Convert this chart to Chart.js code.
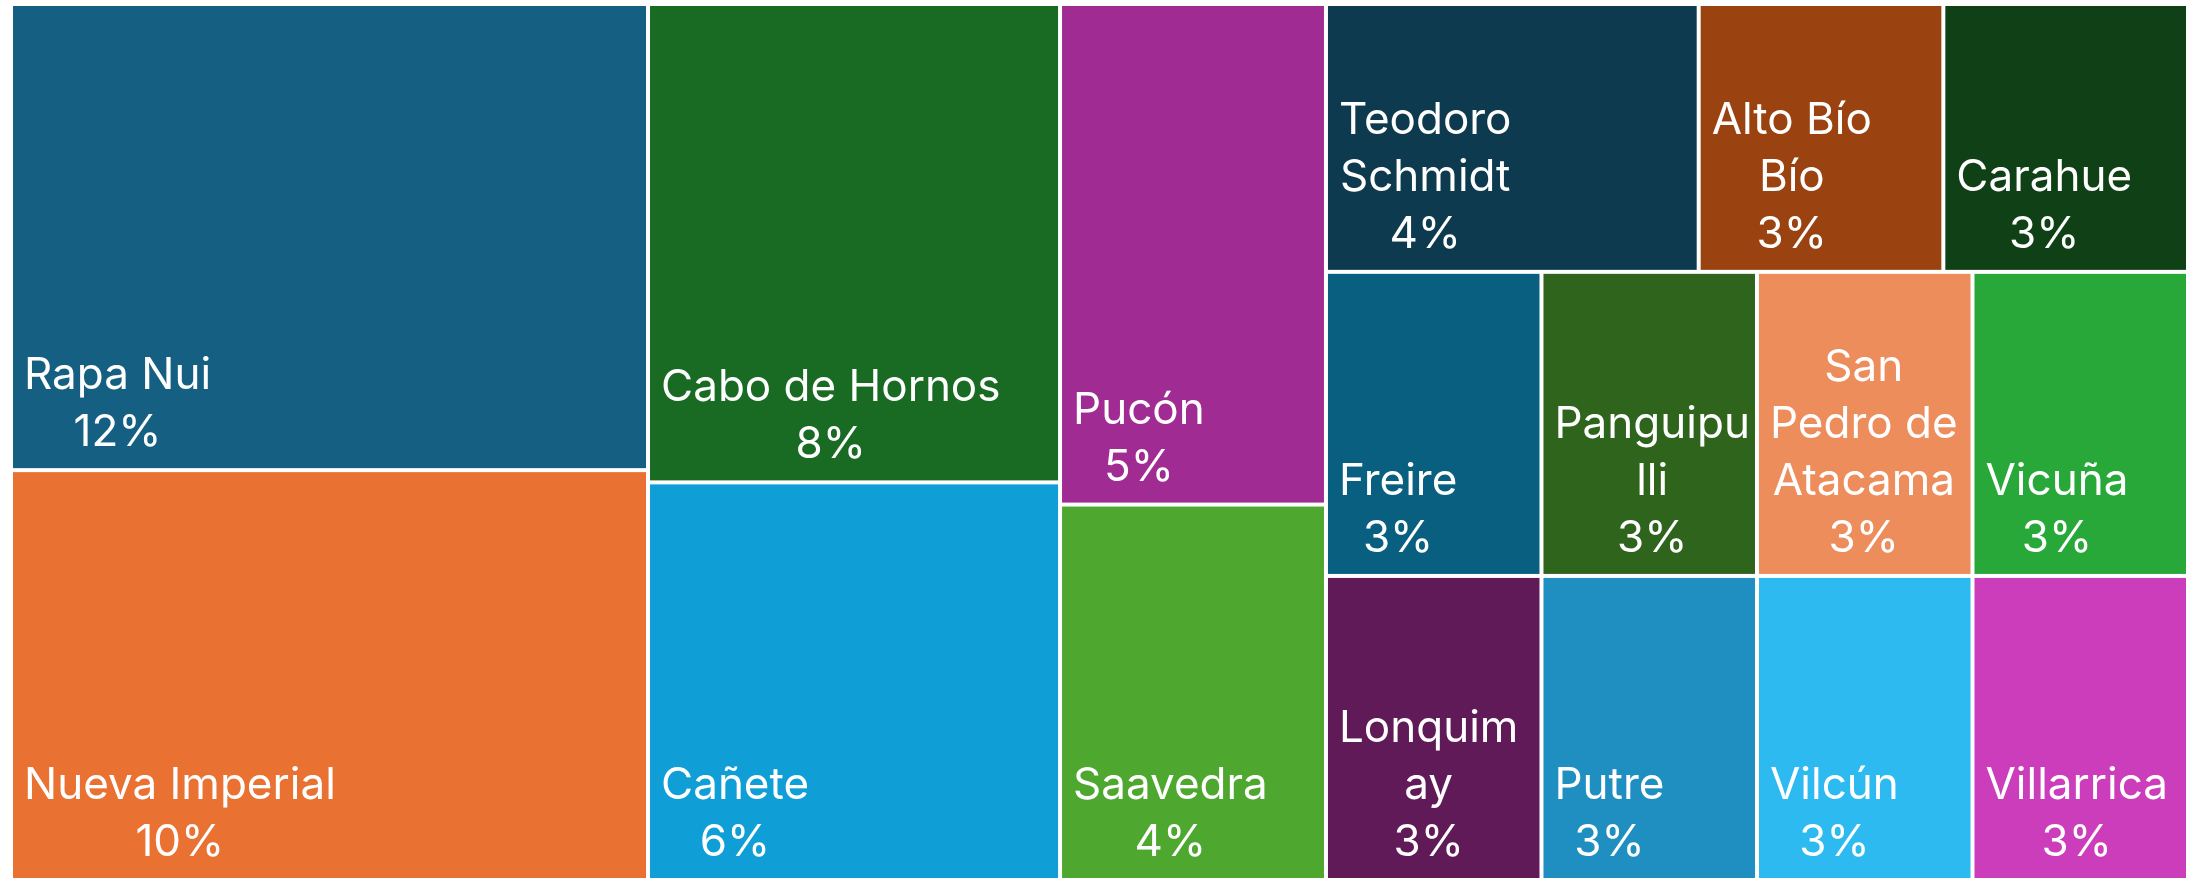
<!DOCTYPE html>
<html>
<head>
<meta charset="utf-8">
<script src="https://cdn.jsdelivr.net/npm/chart.js@4.4.1/dist/chart.umd.min.js"></script>
<style>
  html, body { margin: 0; padding: 0; background: #ffffff; }
  #wrap { width: 2188px; height: 880px; position: relative; }
</style>
</head>
<body>
<div id="wrap"><canvas id="treemap"></canvas></div>
<script>
// Datos del treemap (porcentajes por comuna)
const comunas = [
  'Rapa Nui', 'Nueva Imperial', 'Cabo de Hornos', 'Cañete', 'Pucón', 'Saavedra',
  'Teodoro Schmidt', 'Alto Bío Bío', 'Carahue', 'Freire', 'Lonquimay', 'Panguipulli',
  'Putre', 'San Pedro de Atacama', 'Vicuña', 'Vilcún', 'Villarrica'
];
const valores = [11.6, 10.2, 7.7, 6.4, 5.2, 3.9, 3.9, 2.56, 2.56, 2.56, 2.56, 2.56, 2.56, 2.56, 2.56, 2.56, 2.56];
const colores = [
  '#156082', '#E97132', '#196B24', '#0F9ED5', '#A02B93', '#4EA72E',
  '#0D3A4E', '#9A4310', '#0F4016', '#095F80', '#601A58', '#2F641C',
  '#1F8EC0', '#ED8D5B', '#27A839', '#2CBAF0', '#CB3DBB'
];

// squarified con un factor de proporción (se parece más al diseño de Excel)
const RATIO = 0.82;

function worst(row, side, ratio) {
  const sum = row.reduce((a, b) => a + b, 0);
  const max = Math.max(...row);
  const min = Math.min(...row);
  const t = (sum * sum) / (side * side);
  return Math.max(ratio * max / t, t / (ratio * min));
}

function squarify(values, x, y, w, h, ratio) {
  const total = values.reduce((a, b) => a + b, 0);
  const areas = values.map(v => v * w * h / total);
  const rects = [];
  let i = 0;
  while (i < areas.length) {
    const vertical = w >= h;
    const side = vertical ? h : w;
    let j = i + 1;
    let best = worst(areas.slice(i, j), side, ratio);
    while (j < areas.length) {
      const next = worst(areas.slice(i, j + 1), side, ratio);
      if (next > best) break;
      best = next;
      j++;
    }
    const row = areas.slice(i, j);
    const thick = row.reduce((a, b) => a + b, 0) / side;
    let off = 0;
    row.forEach(a => {
      const len = a / thick;
      if (vertical) rects.push({ x0: x, y0: y + off, x1: x + thick, y1: y + off + len });
      else rects.push({ x0: x + off, y0: y, x1: x + off + len, y1: y + thick });
      off += len;
    });
    if (vertical) { x += thick; w -= thick; } else { y += thick; h -= thick; }
    i = j;
  }
  return rects;
}

// parte el nombre en líneas que quepan en el ancho (corta palabras largas)
function wrapText(ctx, text, maxW) {
  const lines = [];
  let line = '';
  text.split(' ').forEach(word => {
    const test = line ? line + ' ' + word : word;
    if (ctx.measureText(test).width <= maxW) { line = test; return; }
    if (line) lines.push(line);
    line = '';
    let piece = '';
    for (const ch of word) {
      if (ctx.measureText(piece + ch).width > maxW && piece) {
        lines.push(piece);
        piece = ch;
      } else {
        piece += ch;
      }
    }
    line = piece;
  });
  if (line) lines.push(line);
  return lines;
}

const treemapPlugin = {
  id: 'treemapCells',
  beforeDatasetsDraw(chart) {
    const { ctx, chartArea, scales } = chart;
    const w = chartArea.right - chartArea.left;
    const h = chartArea.bottom - chartArea.top;
    // diseño en espacio proporcional a píxeles, luego a unidades 0-100 de los ejes
    const rects = squarify(valores, 0, 0, w, h, RATIO);
    const gap = 2;
    const fontSize = 44;
    const lineH = 57;
    const pad = 11;
    const wrapPad = 7;

    ctx.save();
    rects.forEach((r, k) => {
      const left = scales.x.getPixelForValue(r.x0 / w * 100) + gap;
      const right = scales.x.getPixelForValue(r.x1 / w * 100) - gap;
      const top = scales.y.getPixelForValue(r.y0 / h * 100) + gap;
      const bottom = scales.y.getPixelForValue(r.y1 / h * 100) - gap;
      ctx.fillStyle = colores[k];
      ctx.fillRect(left, top, right - left, bottom - top);

      ctx.font = fontSize + 'px Inter';
      ctx.fillStyle = '#ffffff';
      ctx.textAlign = 'center';
      ctx.textBaseline = 'alphabetic';
      const lines = wrapText(ctx, comunas[k], (right - left) - 2 * wrapPad);
      lines.push(Math.round(valores[k]) + '%');
      const blockW = Math.max(...lines.map(l => ctx.measureText(l).width));
      const cx = left + pad + blockW / 2;
      lines.forEach((l, n) => {
        const base = bottom - 22 - (lines.length - 1 - n) * lineH;
        ctx.fillText(l, cx, base);
      });
    });
    ctx.restore();
  }
};

new Chart(document.getElementById('treemap'), {
  type: 'scatter',
  data: { datasets: [{ data: [] }] },
  options: {
    responsive: true,
    maintainAspectRatio: false,
    animation: false,
    layout: { padding: { left: 11, top: 4, right: -2, bottom: -2 } },
    plugins: { legend: { display: false }, tooltip: { enabled: false } },
    scales: {
      x: { type: 'linear', min: 0, max: 100, display: false },
      y: { type: 'linear', min: 0, max: 100, reverse: true, display: false }
    }
  },
  plugins: [treemapPlugin]
});
</script>
</body>
</html>
